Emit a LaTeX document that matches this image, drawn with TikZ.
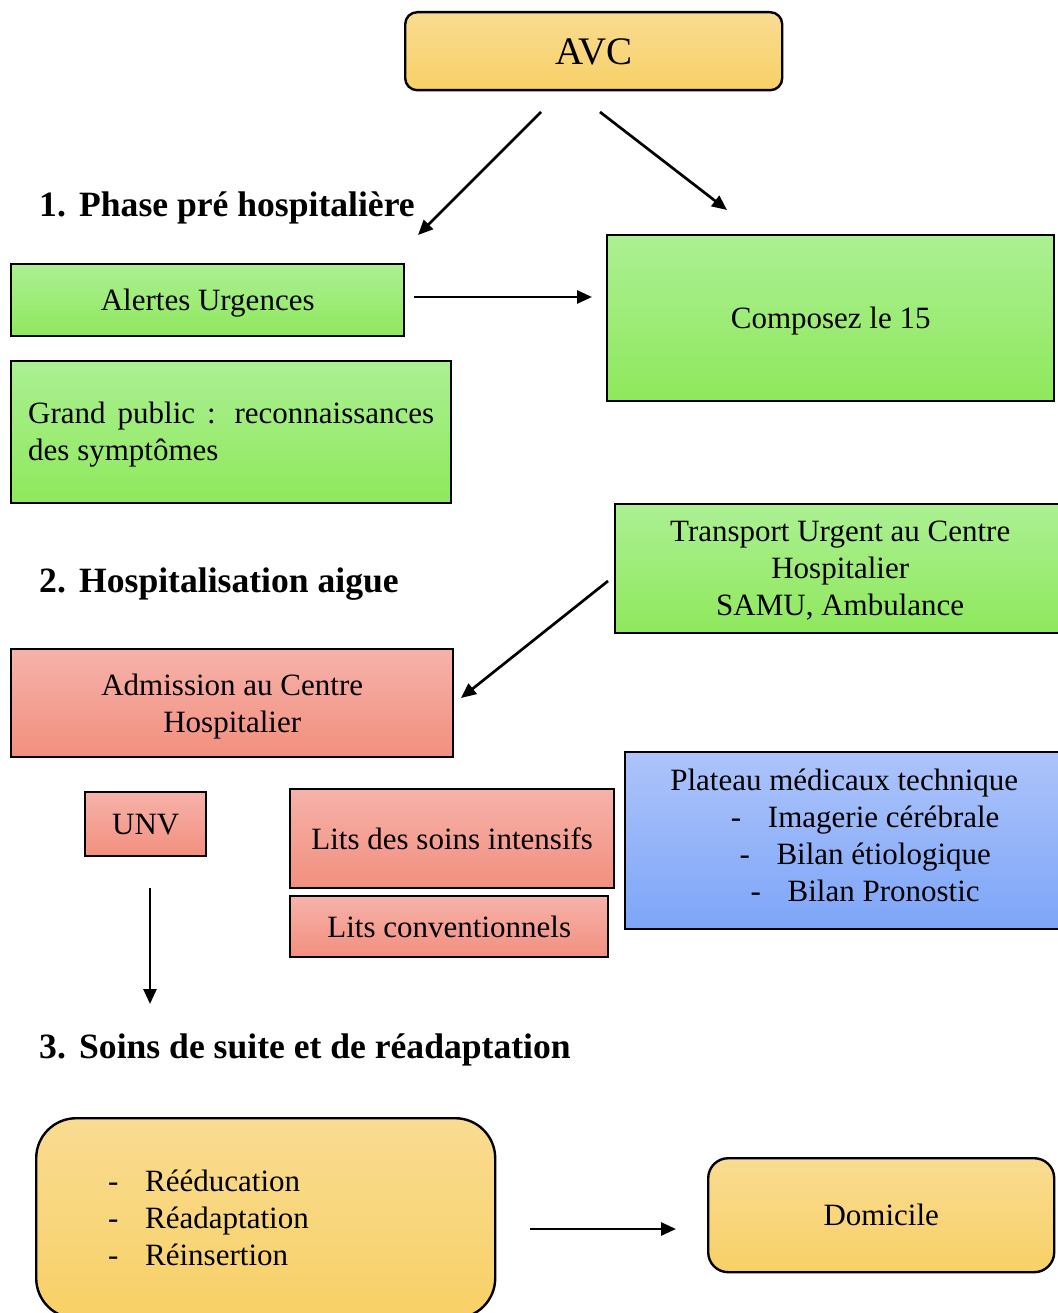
\documentclass[tikz,border=0pt]{standalone}
\usepackage{fontspec}
\setmainfont{Liberation Serif}
\usetikzlibrary{arrows.meta}
\definecolor{ytop}{HTML}{F9DC92}
\definecolor{ybot}{HTML}{F8D066}
\definecolor{gtop}{HTML}{ABF093}
\definecolor{gbot}{HTML}{8FE85C}
\definecolor{rtop}{HTML}{F6B2AA}
\definecolor{rbot}{HTML}{F28F7E}
\definecolor{btop}{HTML}{ADC4FA}
\definecolor{bbot}{HTML}{7DA5F8}
\tikzset{
  box/.style={draw=black, line width=2.4pt, inner sep=0pt, anchor=north west,
    font=\fontsize{31}{37}\selectfont, align=center, text depth=0pt},
  ybox/.style={box, top color=ytop, bottom color=ybot},
  gbox/.style={box, top color=gtop, bottom color=gbot},
  rbox/.style={box, top color=rtop, bottom color=rbot},
  bbox/.style={box, top color=btop, bottom color=bbot},
  head/.style={anchor=base west, inner sep=0pt, font=\fontsize{35.6}{40}\selectfont\bfseries},
  arr/.style={line width=2.7pt, -{Triangle[length=15pt,width=13pt]}},
}
\newcommand{\hnum}[1]{\makebox[40pt][l]{#1}}
\newcommand{\dsh}{\makebox[37pt][l]{-}}
\begin{document}
\begin{tikzpicture}[x=1pt,y=-1pt]
\useasboundingbox (0,0) rectangle (1057,1313);
% nodes
\node[ybox, rounded corners=12pt, minimum width=377, minimum height=78,
  font=\fontsize{39}{44}\selectfont] (avc) at (404,11) {AVC};
\node[head] (h1) at (39,217) {\hnum{1.}Phase pré hospitalière};
\node[gbox, minimum width=393, minimum height=72] (alert) at (10,263) {Alertes Urgences};
\node[gbox, minimum width=447, minimum height=166] (quinze) at (606,234) {Composez le 15};
\node[gbox, minimum width=440, minimum height=142, text width=406, align=justify,
  text depth={}, text height=27pt] (public) at (10,360)
  {Grand public : reconnaissances des symptômes};
\node[gbox, minimum width=450, minimum height=129] (transport) at (614,503)
  {Transport Urgent au Centre\\Hospitalier\\SAMU, Ambulance};
\node[head] (h2) at (39,592) {\hnum{2.}Hospitalisation aigue};
\node[rbox, minimum width=442, minimum height=108] (admission) at (10,648)
  {Admission au Centre\\Hospitalier};
\node[rbox, minimum width=121, minimum height=64] (unv) at (84,791) {UNV};
\node[rbox, minimum width=324, minimum height=99] (soins) at (289,788) {Lits des soins intensifs};
\node[rbox, minimum width=318, minimum height=61] (conv) at (289,895) {Lits conventionnels};
\node[bbox, minimum width=438, minimum height=177, text depth=10pt] (plateau) at (624,751)
  {Plateau médicaux technique\\
   \hspace*{42pt}\dsh Imagerie cérébrale\\
   \hspace*{42pt}\dsh Bilan étiologique\\
   \hspace*{42pt}\dsh Bilan Pronostic};
\node[head] (h3) at (39,1058) {\hnum{3.}Soins de suite et de réadaptation};
\node[ybox, rounded corners=40pt, minimum width=459, minimum height=200,
  text width=315, inner xsep=72pt, align=left, text depth={}] (reeduc) at (35,1117)
  {\dsh Rééducation\\ \dsh Réadaptation\\ \dsh Réinsertion};
\node[ybox, rounded corners=20pt, minimum width=346, minimum height=114] (domicile) at (707,1157) {Domicile};
% free arrow ends
\coordinate (a1s) at (541,112); \coordinate (a1e) at (418,235);
\coordinate (a2s) at (600,112); \coordinate (a2e) at (727,210);
\coordinate (a3s) at (414,297); \coordinate (a3e) at (592,297);
\coordinate (a4s) at (608,581); \coordinate (a4e) at (461,698);
\coordinate (a5s) at (150,888); \coordinate (a5e) at (150,1004);
\coordinate (a6s) at (530,1229); \coordinate (a6e) at (676,1229);
\draw[arr] (a1s) -- (a1e);
\draw[arr] (a2s) -- (a2e);
\draw[arr] (a3s) -- (a3e);
\draw[arr] (a4s) -- (a4e);
\draw[arr] (a5s) -- (a5e);
\draw[arr] (a6s) -- (a6e);
\end{tikzpicture}
\end{document}
